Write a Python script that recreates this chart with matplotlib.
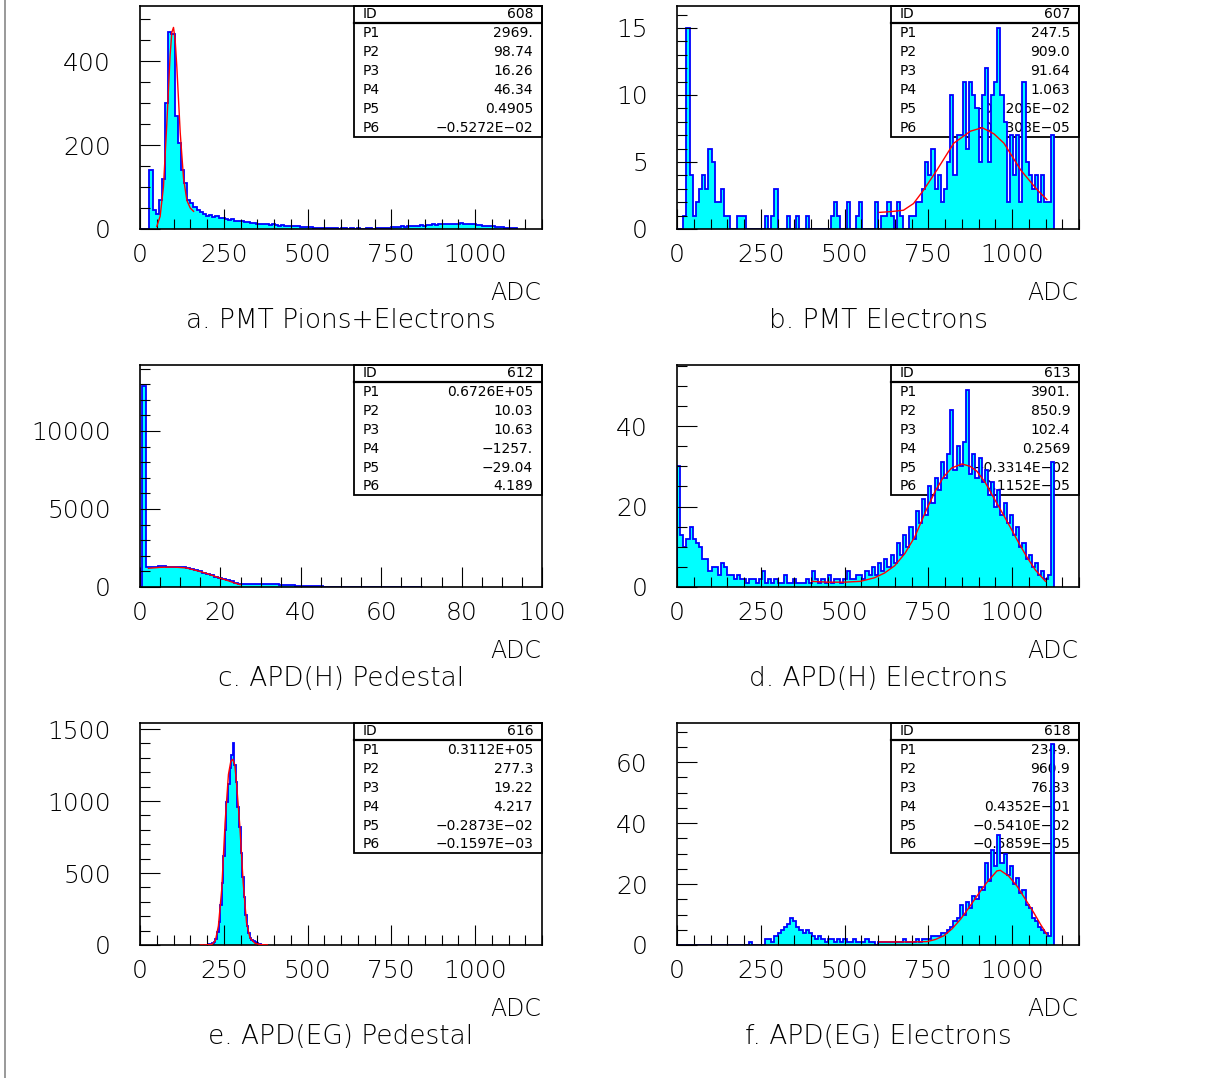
import numpy as np
import matplotlib
matplotlib.use('Agg')
import matplotlib.pyplot as plt
from matplotlib.patches import Rectangle
from matplotlib.lines import Line2D
from matplotlib.ticker import MultipleLocator, FuncFormatter

W, H = 1207, 1078
BIN = 9.375

# a. PMT Pions+Electrons (bins of 9.375 ADC from 0)
a_counts = ([0, 0, 0, 140, 45, 35, 69, 120, 300, 470, 465, 270, 204, 140, 109]
            + [69, 61, 52, 45, 40, 36]
            + [32, 34, 28, 30, 26, 27, 24]
            + [22, 24, 20, 19, 18, 16, 17, 14, 15, 13, 12]
            + [12, 11, 10, 11, 9, 8, 9, 7, 8, 6, 7, 6, 5, 5, 4]
            + [4, 3, 3, 2, 3, 2, 2, 3, 2, 1, 2, 2, 1, 2, 1, 2, 1, 1, 2, 2, 1, 2, 2, 3, 2, 3]
            + [4, 5, 4, 6, 5, 7, 6, 8, 7, 9, 8, 10, 9, 11, 10, 12, 11, 13, 12, 11, 13, 12, 14, 12, 13, 11, 12]
            + [9, 10, 8, 7, 6, 7, 5, 4, 5, 3, 3, 2, 3])
a_fit_x = [50, 60, 70, 80, 90, 95, 100, 105, 110, 120, 130, 140, 150, 160]
a_fit_y = [6, 30, 100, 250, 415, 468, 480, 450, 385, 230, 120, 68, 50, 42]

# b. PMT Electrons
b_counts = ([0, 0, 1, 15, 4, 1, 2, 3, 4, 3, 6, 5, 2, 2, 3, 1, 1, 0, 0, 1,
             1, 1, 0, 0, 0, 0, 0, 0, 1, 0, 1, 3, 0, 0, 0, 1, 0, 0, 1, 0,
             0, 1, 0, 0, 0, 0, 0, 0, 0, 1, 2, 1, 0, 0, 2, 0, 0, 1, 2, 0,
             0, 0, 0, 2]
            + [0, 1, 1, 2, 1, 0, 2, 1, 0, 0, 1, 1, 2, 2, 3]
            + [5, 4, 6, 3, 4, 2, 3, 5, 10, 4, 7, 7, 11, 6, 11, 10, 9, 5, 10, 12,
               5, 10, 11, 15, 10, 8, 2, 7, 4, 7, 2, 11, 5, 4, 3, 4, 2, 4, 2, 2, 7])
b_fit_x = [604, 640, 676, 706, 736, 776, 826, 876, 911, 946, 976, 1026, 1076, 1104]
b_fit_y = [1.24, 1.3, 1.4, 1.9, 2.9, 4.4, 6.4, 7.3, 7.56, 7.1, 6.4, 4.4, 2.9, 2.2]

# c. APD(H) Pedestal (unit bins centred on integers 0..70)
c_counts = ([0, 12870]
            + [1260, 1270, 1250, 1340, 1320, 1300, 1290, 1300, 1280, 1270]
            + [1220, 1150, 1100, 1000, 920, 830, 740, 670, 600, 540]
            + [450, 360, 280, 200, 190, 210, 200, 195, 205, 190]
            + [180, 185, 170, 150, 140, 120, 100, 85, 80, 60]
            + [50, 45, 40, 35, 30, 28]
            + [25, 22, 20, 18, 20, 19, 17, 20, 18, 16, 15, 17, 14, 15, 13, 12, 14, 11, 10, 9]
            + [0, 0, 0])
c_fit_x = [2.1, 5, 8.3, 11.6, 14.1, 16.6, 19.1, 21.6, 24.1, 24.9]
c_fit_y = [1200, 1260, 1280, 1220, 1050, 870, 640, 430, 210, 150]

# d. APD(H) Electrons
d_counts = ([30, 13, 10, 12, 15, 12, 11, 10, 7, 7, 4, 5, 5, 3, 6, 5, 3, 3, 2, 3,
             2, 2, 1, 2, 2, 1, 2, 4, 1, 2, 1, 2, 1, 1, 3, 1, 1, 2, 1, 1,
             1, 2, 1, 4, 2, 1, 2, 1, 3, 1, 2, 2, 1, 2, 4, 2, 2, 3]
            + [3, 2, 4, 3, 5, 3, 6, 4, 7, 5, 8, 6, 11, 8, 13, 10, 15, 12, 19, 16,
               22, 18, 25, 21, 27, 24, 31, 27, 33, 44, 29, 35, 30, 36, 49, 28, 33, 27, 32, 26,
               29, 23, 26, 20, 24, 18, 21, 16, 18, 13, 15, 10, 11, 7, 8, 5, 6, 3, 4, 2,
               3, 31])
d_fit_x = [403, 450, 500, 547, 590, 620, 650, 680, 710, 745, 770, 795, 820, 851,
           875, 895, 920, 944, 970, 994, 1020, 1044, 1070, 1100]
d_fit_y = [1.4, 1.2, 1.2, 1.4, 2.3, 3.5, 5.3, 8.3, 12.5, 19.3, 23.7, 27.3, 29.6, 30.6,
           30.0, 28.8, 26.0, 22.4, 18.6, 15.0, 11.0, 7.5, 4.2, 1.4]

# e. APD(EG) Pedestal (bins of 4.6875 ADC from 187.5)
e_start, e_bin = 187.5, 4.6875
e_counts = [2, 3, 2, 5, 4, 8, 12, 20, 40, 90,
            160, 280, 430, 620, 800, 990, 1120, 1230, 1320, 1400,
            1250, 1130, 960, 820, 640, 470, 330, 210, 130, 80,
            50, 35, 25, 18, 12, 8, 5, 3, 2, 1]
e_fit_x = [180, 200, 215, 225, 234, 244, 254, 264, 271, 277, 283, 288, 298, 308,
           318, 328, 343, 360, 380]
e_fit_y = [0, 1, 5, 30, 132, 387, 850, 1185, 1275, 1290, 1250, 1127, 826, 433,
           155, 51, 12, 3, 1]

# f. APD(EG) Electrons
f_counts = ([0] * 23 + [1, 0, 0, 0, 0]
            + [2, 2, 1, 3, 4, 5, 6, 7, 9, 8, 6, 5, 4, 5, 4, 3, 2, 3, 2, 1,
               2, 2, 1, 2, 1, 2, 1, 1, 2, 1]
            + [1, 1, 2, 1, 1, 0, 1, 1, 1, 1, 1, 1, 1, 1, 2, 1, 1, 1, 2, 1, 2]
            + [2, 2, 3, 3, 3, 4, 4, 5, 6, 8, 9, 13, 10, 14, 12, 16, 15, 19, 18, 27,
               21, 31, 26, 36, 27, 30, 23, 26, 20, 22, 17, 18, 13, 12, 9, 8, 6, 5, 4, 3,
               66])
f_fit_x = [604, 650, 700, 746, 771, 796, 821, 846, 870, 895, 925, 955, 965, 990,
           1015, 1040, 1065, 1085, 1104]
f_fit_y = [1, 1, 1, 1.1, 1.8, 3, 5.3, 8.4, 12, 16, 20.5, 24.3, 24.5, 22.6,
           19.3, 15, 10.6, 6.8, 3.5]

stats = {
    'a': ('608', ['2969.', '98.74', '16.26', '46.34', '0.4905', '\u22120.5272E\u221202']),
    'b': ('607', ['247.5', '909.0', '91.64', '1.063', '\u22120.1206E\u221202', '\u22120.5308E\u221205']),
    'c': ('612', ['0.6726E+05', '10.03', '10.63', '\u22121257.', '\u221229.04', '4.189']),
    'd': ('613', ['3901.', '850.9', '102.4', '0.2569', '\u22120.3314E\u221202', '\u22120.1152E\u221205']),
    'e': ('616', ['0.3112E+05', '277.3', '19.22', '4.217', '\u22120.2873E\u221202', '\u22120.1597E\u221203']),
    'f': ('618', ['2349.', '960.9', '76.33', '0.4352E\u221201', '\u22120.5410E\u221202', '\u22120.5859E\u221205']),
}
titles = {'a': 'a. PMT Pions+Electrons', 'b': 'b. PMT Electrons',
          'c': 'c. APD(H) Pedestal', 'd': 'd. APD(H) Electrons',
          'e': 'e. APD(EG) Pedestal', 'f': 'f. APD(EG) Electrons'}

plt.rcParams['font.family'] = 'DejaVu Sans'
fig = plt.figure(figsize=(W / 100, H / 100), dpi=100)
fig.add_artist(Line2D([5 / W, 5 / W], [0, 1], color='#888888', lw=1.2))

FILL = '#00ffff'
LINE = '#0000ff'


def make_axes(x0, y0, x1, y1):
    return fig.add_axes([x0 / W, 1 - y1 / H, (x1 - x0) / W, (y1 - y0) / H])


def stats_box(ax, key):
    ident, pars = stats[key]
    x0, bot = 0.532, 0.413
    ax.add_patch(Rectangle((x0, bot), 1 - x0, 1 - bot, transform=ax.transAxes,
                           fill=False, ec='black', lw=1.3, zorder=1, clip_on=False))
    ax.plot([x0, 1], [0.924, 0.924], transform=ax.transAxes, color='black', lw=1.6, zorder=1)
    rows = [('ID', ident)] + [('P%d' % (i + 1), p) for i, p in enumerate(pars)]
    ys = [0.962] + [0.879 - 0.0852 * i for i in range(6)]
    for (lab, val), y in zip(rows, ys):
        ax.text(0.555, y, lab, transform=ax.transAxes, ha='left', va='center',
                fontsize=10, zorder=1.5)
        ax.text(0.978, y, val, transform=ax.transAxes, ha='right', va='center',
                fontsize=10, zorder=1.5)


def panel(key, box, counts, edges, fit_x, fit_y, xlim, ylim, xmaj, xmin, ymaj, ymin):
    ax = make_axes(*box)
    stats_box(ax, key)
    ax.stairs(counts, edges, fill=True, color=FILL, lw=0, zorder=2)
    ax.stairs(counts, edges, color=LINE, lw=1.3, zorder=2.2)
    ax.plot(fit_x, fit_y, color='red', lw=1.0, zorder=3)
    ax.set_xlim(*xlim)
    ax.set_ylim(*ylim)
    ax.set_axisbelow(False)
    ax.xaxis.set_major_locator(MultipleLocator(xmaj))
    ax.xaxis.set_minor_locator(MultipleLocator(xmin))
    ax.yaxis.set_major_locator(MultipleLocator(ymaj))
    ax.yaxis.set_minor_locator(MultipleLocator(ymin))
    fmt = FuncFormatter(lambda v, p: '%g' % v)
    ax.xaxis.set_major_formatter(fmt)
    ax.yaxis.set_major_formatter(fmt)
    ax.tick_params(which='both', direction='in', top=False, right=False, color='black')
    ax.tick_params(which='major', length=14.4, width=0.8, labelsize=18)
    ax.tick_params(which='minor', length=7.2, width=0.8)
    ax.tick_params(axis='x', which='major', pad=10)
    ax.tick_params(axis='y', which='major', pad=21)
    for lab in ax.get_xticklabels() + ax.get_yticklabels():
        lab.set_fontweight('light')
    for s in ax.spines.values():
        s.set_linewidth(1.2)
    x0, y0, x1, y1 = box
    fig.text((x1 - 1) / W, 1 - (y1 + 64) / H, 'ADC', ha='right', va='center',
             fontsize=17, fontweight='light')
    fig.text((x0 + x1) / 2 / W, 1 - (y1 + 91) / H, titles[key], ha='center', va='center',
             fontsize=19, fontweight='light')
    return ax


edges120 = np.arange(121) * BIN
c_edges = np.arange(len(c_counts) + 1) - 0.5
e_edges = e_start + np.arange(len(e_counts) + 1) * e_bin

panel('a', (140, 6, 542, 229), a_counts, edges120, a_fit_x, a_fit_y,
      (0, 1200), (0, 531), 250, 50, 200, 50)
panel('b', (677, 6, 1079, 229), b_counts, edges120, b_fit_x, b_fit_y,
      (0, 1200), (0, 16.64), 250, 50, 5, 1)
panel('c', (140, 365, 542, 587), c_counts, c_edges, c_fit_x, c_fit_y,
      (0, 100), (0, 14230), 20, 5, 5000, 1000)
panel('d', (677, 365, 1079, 587), d_counts, edges120, d_fit_x, d_fit_y,
      (0, 1200), (0, 55.2), 250, 50, 20, 5)
panel('e', (140, 723, 542, 945), e_counts, e_edges, e_fit_x, e_fit_y,
      (0, 1200), (0, 1542), 250, 50, 500, 100)
panel('f', (677, 723, 1079, 945), f_counts, edges120, f_fit_x, f_fit_y,
      (0, 1200), (0, 72.8), 250, 50, 20, 5)

fig.savefig('out.png', dpi=100)
